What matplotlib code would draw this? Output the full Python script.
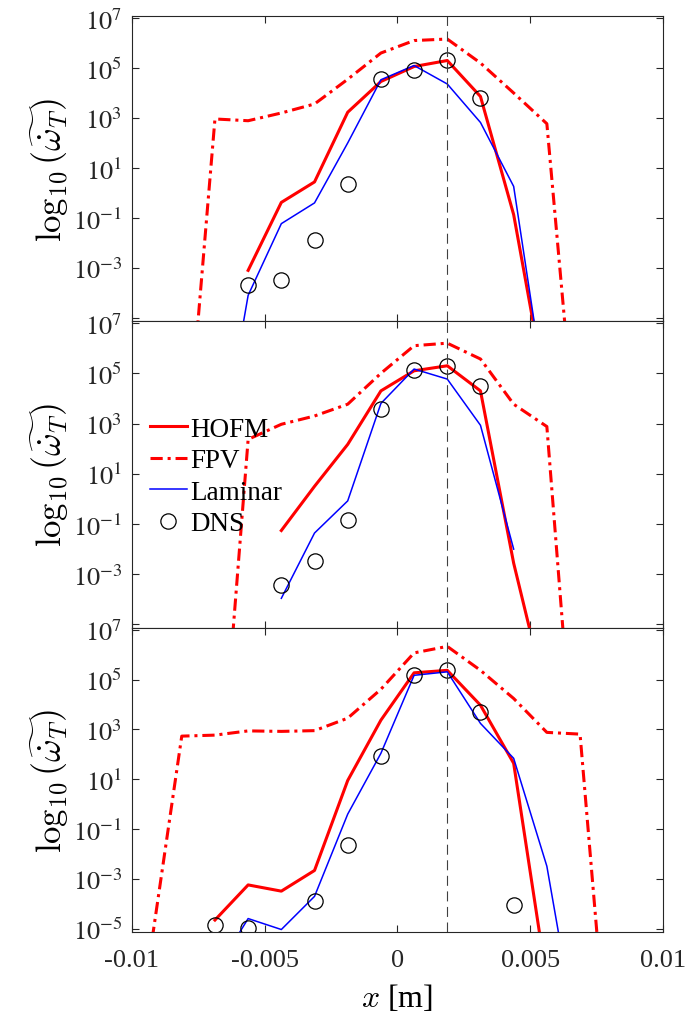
import matplotlib
matplotlib.use('Agg')
import matplotlib.pyplot as plt
import numpy as np

plt.rcParams['font.family'] = ['Liberation Serif', 'DejaVu Serif']
plt.rcParams['mathtext.fontset'] = 'stix'

# cell centres of the 1D grid (m)
x_all = [-0.009375, -0.008125, -0.006875, -0.005625, -0.004375, -0.003125,
         -0.001875, -0.000625, 0.000625, 0.001875, 0.003125, 0.004375,
         0.005625, 0.006875, 0.008125]
x_probe = 0.001875

# log10 of the filtered heat release
# panel 1
p1_fpv_x = x_all[1:14]
p1_fpv = [-12.9, 2.96, 2.89, 3.2, 3.56, 4.55, 5.6, 6.1, 6.16, 5.2, 4.0, 2.77, -12.0]
p1_hofm_x = x_all[3:13]
p1_hofm = [-3.1, -0.38, 0.44, 3.23, 4.46, 5.06, 5.3, 3.86, -0.87, -8.2]
p1_lam_x = x_all[2:13]
p1_lam = [-11.7, -4.1, -1.23, -0.4, 2.0, 4.53, 5.1, 4.36, 2.82, 0.26, -8.5]
p1_dns_x = x_all[3:11]
p1_dns = [-3.7, -3.5, -1.87, 0.36, 4.56, 4.93, 5.33, 3.8]

# panel 2
p2_fpv_x = x_all[2:14]
p2_fpv = [-14.4, 2.37, 2.97, 3.3, 3.77, 5.0, 6.1, 6.2, 5.57, 3.77, 2.88, -13.8]
p2_hofm_x = x_all[4:13]
p2_hofm = [-1.26, 0.5, 2.17, 4.3, 5.1, 5.3, 4.3, -2.56, -8.0]
p2_lam_x = x_all[4:12]
p2_lam = [-3.96, -1.36, -0.08, 3.8, 5.17, 4.77, 2.93, -2.0]
p2_dns_x = x_all[4:11]
p2_dns = [-3.43, -2.47, -0.86, 3.57, 5.14, 5.3, 4.48]

# panel 3
p3_fpv_x = x_all[0:15]
p3_fpv = [-6.4, 2.73, 2.77, 2.94, 2.92, 2.95, 3.45, 4.61, 6.07, 6.33, 5.37,
          4.24, 2.88, 2.81, -12.9]
p3_hofm_x = x_all[2:13]
p3_hofm = [-4.65, -3.24, -3.49, -2.66, 0.95, 3.37, 5.27, 5.37, 3.97, 1.64, -7.1]
p3_lam_x = x_all[2:14]
p3_lam = [-6.75, -4.59, -5.03, -3.7, -0.4, 2.04, 5.17, 5.31, 3.24, 1.84, -2.49, -10.1]
p3_dns_x = [-0.006875, -0.005625, -0.003125, -0.001875, -0.000625, 0.000625,
            0.001875, 0.003125, 0.004375]
p3_dns = [-4.85, -4.96, -3.89, -1.63, 1.93, 5.2, 5.37, 3.71, -4.03]

panels = [
    (p1_hofm_x, p1_hofm, p1_fpv_x, p1_fpv, p1_lam_x, p1_lam, p1_dns_x, p1_dns),
    (p2_hofm_x, p2_hofm, p2_fpv_x, p2_fpv, p2_lam_x, p2_lam, p2_dns_x, p2_dns),
    (p3_hofm_x, p3_hofm, p3_fpv_x, p3_fpv, p3_lam_x, p3_lam, p3_dns_x, p3_dns),
]

x_ticks = [-0.01, -0.005, 0, 0.005, 0.01]
x_tick_labels = ['-0.01', '-0.005', '0', '0.005', '0.01']
y_exps = [-5, -3, -1, 1, 3, 5, 7]

axis_grey = '#262626'
ylabel = r'$\log_{10}\left(\widetilde{\dot{\omega}_T}\right)$'


def draw_panel(ax, data, last=False):
    hx, hy, fx, fy, lx, ly, dx, dy = data
    ax.semilogy(hx, 10.0 ** np.array(hy), color='r', lw=2.2, label='HOFM')
    ax.semilogy(fx, 10.0 ** np.array(fy), color='r', lw=2.2,
                ls=(0, (4, 1.6, 1, 1.6)), label='FPV')
    ax.semilogy(lx, 10.0 ** np.array(ly), color='b', lw=1.1, label='Laminar')
    ax.semilogy(dx, 10.0 ** np.array(dy), ls='none', marker='o', ms=11,
                mfc='none', mec='k', mew=0.9, label='DNS')
    ax.axvline(x_probe, color='#404040', lw=0.8, ls=(0, (9, 5)))

    ax.set_xlim(-0.01, 0.01)
    ax.set_ylim(10 ** -5.14, 10 ** 7.07)
    ax.set_yticks([10.0 ** e for e in y_exps])
    ax.yaxis.set_minor_locator(matplotlib.ticker.NullLocator())
    labels = [r'$10^{%d}$' % e for e in y_exps]
    if not last:
        labels[0] = ''
    ax.set_yticklabels(labels)
    ax.set_xticks(x_ticks)
    if last:
        ax.set_xticklabels(x_tick_labels)
        ax.set_xlabel(r'$x$ [m]', fontsize=23, math_fontfamily='cm', labelpad=8)
    else:
        ax.set_xticklabels([])
    ax.tick_params(direction='in', top=True, right=True, length=5,
                   width=0.8, colors=axis_grey, labelsize=19)
    ax.tick_params(axis='y', pad=7)
    ax.tick_params(axis='x', pad=12)
    for s in ax.spines.values():
        s.set_color(axis_grey)
        s.set_linewidth(0.8)
    ax.set_ylabel(ylabel, fontsize=25, math_fontfamily='cm', labelpad=1)


fig = plt.figure(figsize=(6.87, 10.12), dpi=100)
left, width = 0.1921, 0.773
edges = [0.9829, 0.6815, 0.3785, 0.0778]
axes = []
for i in range(3):
    ax = fig.add_axes([left, edges[i + 1], width, edges[i] - edges[i + 1]])
    draw_panel(ax, panels[i], last=(i == 2))
    axes.append(ax)

axes[1].legend(loc='upper left', bbox_to_anchor=(0.013, 0.724), borderaxespad=0,
               frameon=False, fontsize=19.5, handlelength=1.37, handletextpad=0.11,
               labelspacing=0.24, borderpad=0.4)

fig.savefig('out.png', dpi=100)
